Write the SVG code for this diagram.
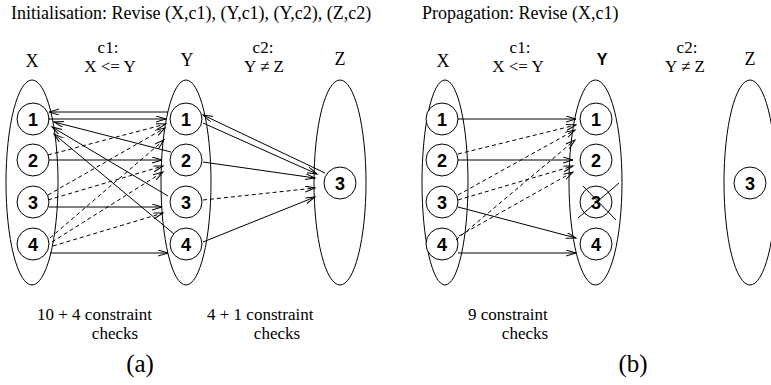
<svg xmlns="http://www.w3.org/2000/svg" width="771" height="385" viewBox="0 0 771 385">
<defs>
<marker id="ah" markerUnits="userSpaceOnUse" markerWidth="12" markerHeight="8" refX="10" refY="3" orient="auto">
<path d="M0,0 L10,3 L0,6" fill="none" stroke="#000" stroke-width="1"/>
</marker>
<style>
.t{font-family:"Liberation Serif","Times New Roman",serif;font-size:18px;fill:#000}
.k{font-size:17px}
.c{text-anchor:middle}
.n{font-family:"Liberation Sans",Arial,sans-serif;font-size:18px;font-weight:bold;fill:#000;text-anchor:middle}
.dom{fill:none;stroke:#000;stroke-width:1}
.val{fill:#fff;stroke:#000;stroke-width:1}
.s{stroke:#000;stroke-width:1;fill:none;marker-end:url(#ah)}
.d{stroke:#000;stroke-width:1;fill:none;stroke-dasharray:4 3;marker-end:url(#ah)}
</style>
</defs>
<rect width="771" height="385" fill="#fff"/>

<!-- titles and labels -->
<text class="t" x="11" y="19">Initialisation: Revise (X,c1), (Y,c1), (Y,c2), (Z,c2)</text>
<text class="t" x="422" y="19">Propagation: Revise (X,c1)</text>

<text class="t c" x="32" y="67">X</text>
<text class="t k c" x="108" y="53">c1:</text>
<text class="t k c" x="110" y="72">X &lt;= Y</text>
<text class="t c" x="187" y="66">Y</text>
<text class="t k c" x="263" y="53">c2:</text>
<text class="t k c" x="264" y="72">Y ≠ Z</text>
<text class="t c" x="340" y="65">Z</text>

<text class="t c" x="443" y="67">X</text>
<text class="t k c" x="520" y="53">c1:</text>
<text class="t k c" x="518" y="72">X &lt;= Y</text>
<text x="602" y="65" style="font-family:'Liberation Sans',Arial,sans-serif;font-size:16px;font-weight:bold;text-anchor:middle">Y</text>
<text class="t k c" x="687" y="53">c2:</text>
<text class="t k c" x="685" y="72">Y ≠ Z</text>
<text class="t c" x="750" y="65">Z</text>

<text class="t k" x="37" y="320">10 + 4 constraint</text>
<text class="t k c" x="115" y="339">checks</text>
<text class="t k" x="207" y="320">4 + 1 constraint</text>
<text class="t k c" x="277" y="339">checks</text>
<text class="t k" x="468" y="320">9 constraint</text>
<text class="t k c" x="525" y="339">checks</text>
<text class="t c" x="140" y="372" style="font-size:25px">(a)</text>
<text class="t c" x="633" y="372" style="font-size:25px">(b)</text>

<!-- panel (a) nodes -->
<g id="a-X">
<ellipse class="dom" cx="32" cy="182.5" rx="26" ry="102.5"/>
<circle class="val" cx="33" cy="119" r="16"/><text class="n" x="33" y="125.5">1</text>
<circle class="val" cx="33" cy="160" r="16"/><text class="n" x="33" y="166.5">2</text>
<circle class="val" cx="33" cy="202" r="16"/><text class="n" x="33" y="208.5">3</text>
<circle class="val" cx="33" cy="244" r="16"/><text class="n" x="33" y="250.5">4</text>
</g>
<g id="a-Y">
<ellipse class="dom" cx="186" cy="182.5" rx="25" ry="102.5"/>
<circle class="val" cx="186" cy="119" r="16"/><text class="n" x="186" y="125.5">1</text>
<circle class="val" cx="186" cy="160" r="16"/><text class="n" x="186" y="166.5">2</text>
<circle class="val" cx="186" cy="202" r="16"/><text class="n" x="186" y="208.5">3</text>
<circle class="val" cx="186" cy="244" r="16"/><text class="n" x="186" y="250.5">4</text>
</g>
<g id="a-Z">
<ellipse class="dom" cx="340" cy="182.5" rx="26" ry="102.5"/>
<circle class="val" cx="340" cy="183" r="16"/><text class="n" x="340" y="189.5">3</text>
</g>

<!-- panel (b) nodes -->
<g id="b-X">
<ellipse class="dom" cx="445" cy="182.5" rx="23" ry="102.5"/>
<circle class="val" cx="442" cy="119" r="16"/><text class="n" x="442" y="125.5">1</text>
<circle class="val" cx="442" cy="160" r="16"/><text class="n" x="442" y="166.5">2</text>
<circle class="val" cx="442" cy="202" r="16"/><text class="n" x="442" y="208.5">3</text>
<circle class="val" cx="442" cy="244" r="16"/><text class="n" x="442" y="250.5">4</text>
</g>
<g id="b-Y">
<ellipse class="dom" cx="595.5" cy="182.5" rx="26.5" ry="102.5"/>
<circle class="val" cx="596" cy="119" r="16"/><text class="n" x="596" y="125.5">1</text>
<circle class="val" cx="596" cy="160" r="16"/><text class="n" x="596" y="166.5">2</text>
<circle class="val" cx="596" cy="202" r="16"/><text class="n" x="596" y="208.5">3</text>
<path d="M578,218 L619,183 M583,186 L616,220" stroke="#000" stroke-width="1" fill="none"/>
<circle class="val" cx="596" cy="244" r="16"/><text class="n" x="596" y="250.5">4</text>
</g>
<g id="b-Z">
<ellipse class="dom" cx="750" cy="182.5" rx="26" ry="102.5"/>
<circle class="val" cx="750" cy="183" r="16"/><text class="n" x="750" y="189.5">3</text>
</g>

<g id="connectors">
<!-- (a) Revise (X,c1) -->
<line class="s" x1="48" y1="119" x2="166" y2="119"/>
<line class="s" x1="49" y1="160" x2="162" y2="160"/>
<line class="s" x1="49" y1="207" x2="162" y2="207"/>
<line class="s" x1="50" y1="253" x2="168" y2="253"/>
<line class="d" x1="48" y1="155" x2="166" y2="124"/>
<line class="d" x1="48" y1="195" x2="165" y2="128"/>
<line class="d" x1="48" y1="200" x2="163" y2="166"/>
<line class="d" x1="50" y1="238" x2="164" y2="140"/>
<line class="d" x1="52" y1="242" x2="163" y2="172"/>
<line class="d" x1="53" y1="246" x2="163" y2="213"/>
<!-- (a) Revise (Y,c1) -->
<line class="s" x1="168" y1="112" x2="49" y2="112"/>
<line class="s" x1="171" y1="152" x2="54" y2="122"/>
<line class="s" x1="168" y1="196" x2="52" y2="127"/>
<line class="s" x1="174" y1="234" x2="54" y2="134"/>
<!-- (a) Revise (Y,c2), (Z,c2) -->
<line class="s" x1="325" y1="173" x2="203" y2="115"/>
<line class="s" x1="203" y1="123" x2="317" y2="174"/>
<line class="s" x1="203" y1="162" x2="315" y2="178"/>
<line class="d" x1="203" y1="200" x2="315" y2="188"/>
<line class="s" x1="203" y1="242" x2="315" y2="197"/>
<!-- (b) Revise (X,c1) -->
<line class="s" x1="458" y1="119" x2="576" y2="119"/>
<line class="s" x1="458" y1="160" x2="573" y2="160"/>
<line class="s" x1="458" y1="207" x2="576" y2="238"/>
<line class="s" x1="458" y1="253" x2="576" y2="253"/>
<line class="d" x1="458" y1="154" x2="576" y2="125"/>
<line class="d" x1="458" y1="195" x2="575" y2="130"/>
<line class="d" x1="458" y1="200" x2="573" y2="166"/>
<line class="d" x1="456" y1="240" x2="575" y2="140"/>
<line class="d" x1="459" y1="236" x2="573" y2="172"/>
</g>
</svg>
